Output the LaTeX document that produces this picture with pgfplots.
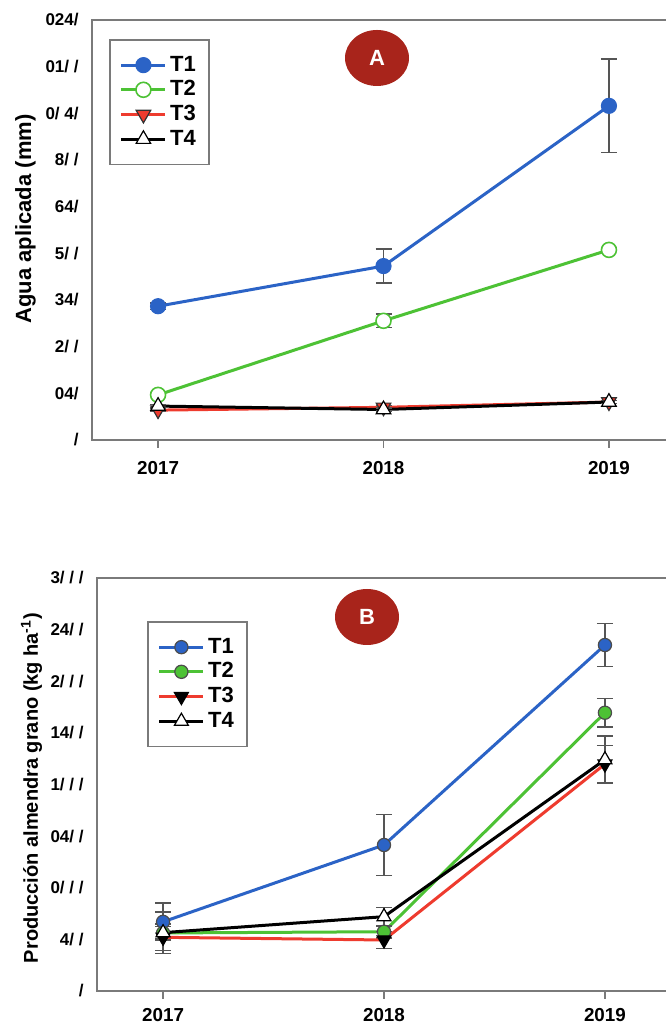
\documentclass[border=0pt]{standalone}
\usepackage{pgfplots}
\pgfplotsset{compat=1.18}
\usepackage{fontspec}
\setmainfont{Liberation Sans}

\definecolor{tblue}{HTML}{2B63C6}
\definecolor{tgreen}{HTML}{4DC235}
\definecolor{tred}{HTML}{EE3B2E}
\definecolor{badge}{HTML}{A8241B}
\definecolor{axisgray}{HTML}{7A7A7A}
\definecolor{errgray}{HTML}{555555}

\pgfplotsset{
  panel/.style={
    scale only axis,
    clip=false,
    axis line style={axisgray, line width=0.9pt},
    xtick={2017,2018,2019},
    xticklabels={2017,2018,2019},
    xtick pos=bottom,
    ytick pos=left,
    tick align=outside,
    major tick length=4pt,
    xtick style={axisgray, line width=0.8pt},
    ytick style={draw=none},
    x tick label style={font=\bfseries\fontsize{9.4}{10}\selectfont, inner sep=0pt, anchor=north},
    y tick label style={font=\bfseries\fontsize{8.5}{10}\selectfont, inner sep=0pt, anchor=east, xshift=-2.5pt},
    ylabel style={anchor=base, rotate=0},
    legend cell align=left,
    legend style={draw=axisgray, line width=0.9pt, anchor=north west,
      font=\bfseries\fontsize{11}{12}\selectfont,
      inner xsep=5pt, inner ysep=6.5pt, row sep=0pt,
      nodes={inner sep=1.6pt}},
    legend image code/.code={%
      \draw[mark repeat=2, mark phase=2, #1]
        plot coordinates {(0pt,0pt) (11pt,0pt) (22pt,0pt)};},
    every axis plot/.append style={line width=1.5pt},
  },
  ebars/.style={
    error bars/.cd, y dir=both, y explicit,
    error bar style={draw=errgray, line width=0.7pt},
    error mark options={rotate=90, mark size=4pt, draw=errgray, line width=0.7pt},
  },
}

\begin{document}
\begin{tikzpicture}
\useasboundingbox (0pt,0pt) rectangle (332.5pt,513.5pt);

% ---------- Panel A: applied water ----------
\begin{axis}[panel,
  at={(46pt,293.5pt)}, anchor=south west,
  width=291.5pt, height=210pt,
  xmin=2016.707, xmax=2019.293,
  ymin=0, ymax=1350,
  ytick={0,150,300,450,600,750,900,1050,1200,1350},
  yticklabels={/,04/,2/ /,34/,5/ /,64/,8/ /,0/ 4/,01/ /,024/},
  x tick label style={yshift=-6.7pt},
  ylabel={Agua aplicada (mm)},
  ylabel style={font=\bfseries\fontsize{11}{12}\selectfont, at={(rel axis cs:-0.1046,0.5262)}},
  legend style={at={(0.0292,0.9548)}},
]
\addplot[color=tblue, mark=*, mark size=3.75pt, mark options={fill=tblue, draw=tblue, line width=0.6pt}, ebars]
  coordinates {(2017,430) +- (0,10) (2018,559) +- (0,55) (2019,1074) +- (0,150)};
\addplot[color=tgreen, mark=*, mark size=3.75pt, mark options={fill=white, draw=tgreen, line width=0.8pt}, ebars]
  coordinates {(2017,145) +- (0,6) (2018,383) +- (0,22) (2019,611) +- (0,6)};
\addplot[color=tred, mark=triangle*, mark size=4.2pt, mark options={rotate=180, fill=tred, draw=black!80, line width=0.6pt}, ebars]
  coordinates {(2017,96) +- (0,5) (2018,105) +- (0,5) (2019,122) +- (0,5)};
\addplot[color=black, mark=triangle*, mark size=4.2pt, mark options={fill=white, draw=black, line width=0.6pt}, ebars]
  coordinates {(2017,109) +- (0,5) (2018,98) +- (0,5) (2019,122) +- (0,5)};
\legend{T1,T2,T3,T4}
\end{axis}

% ---------- Panel B: kernel yield ----------
\begin{axis}[panel,
  at={(48.5pt,18pt)}, anchor=south west,
  width=287pt, height=206.5pt,
  xmin=2016.701, xmax=2019.299,
  ymin=0, ymax=4000,
  ytick={0,500,1000,1500,2000,2500,3000,3500,4000},
  yticklabels={/,4/ /,0/ / /,04/ /,1/ / /,14/ /,2/ / /,24/ /,3/ / /},
  x tick label style={yshift=-4.7pt},
  ylabel={Producción almendra grano (kg ha\textsuperscript{-1})},
  ylabel style={font=\bfseries\fontsize{10}{12}\selectfont, at={(rel axis cs:-0.1028,0.4915)}},
  legend style={at={(0.0871,0.8959)}},
]
\addplot[color=tblue, mark=*, mark size=3.3pt, mark options={fill=tblue, draw=black!70, line width=0.6pt}, ebars]
  coordinates {(2017,670) +- (0,182) (2018,1414) +- (0,295) (2019,3351) +- (0,207)};
\addplot[color=tgreen, mark=*, mark size=3.3pt, mark options={fill=tgreen, draw=black!70, line width=0.6pt}, ebars]
  coordinates {(2017,562) +- (0,60) (2018,574) +- (0,60) (2019,2695) +- (0,137)};
\addplot[color=tred, mark=triangle*, mark size=4pt, mark options={rotate=180, fill=black, draw=black, line width=0.6pt}, ebars]
  coordinates {(2017,520) +- (0,130) (2018,494) +- (0,80) (2019,2198) +- (0,180)};
\addplot[color=black, mark=triangle*, mark size=4pt, mark options={fill=white, draw=black, line width=0.6pt}, ebars]
  coordinates {(2017,565) +- (0,200) (2018,720) +- (0,90) (2019,2240) +- (0,230)};
\legend{T1,T2,T3,T4}
\end{axis}

% panel badges
\fill[badge] (188.5pt,484.5pt) ellipse [x radius=16pt, y radius=14pt];
\node[text=white, font=\bfseries\fontsize{11}{12}\selectfont] at (188.5pt,484.5pt) {A};
\fill[badge] (183.5pt,205pt) ellipse [x radius=16pt, y radius=14pt];
\node[text=white, font=\bfseries\fontsize{11}{12}\selectfont] at (183.5pt,205pt) {B};
\end{tikzpicture}
\end{document}
